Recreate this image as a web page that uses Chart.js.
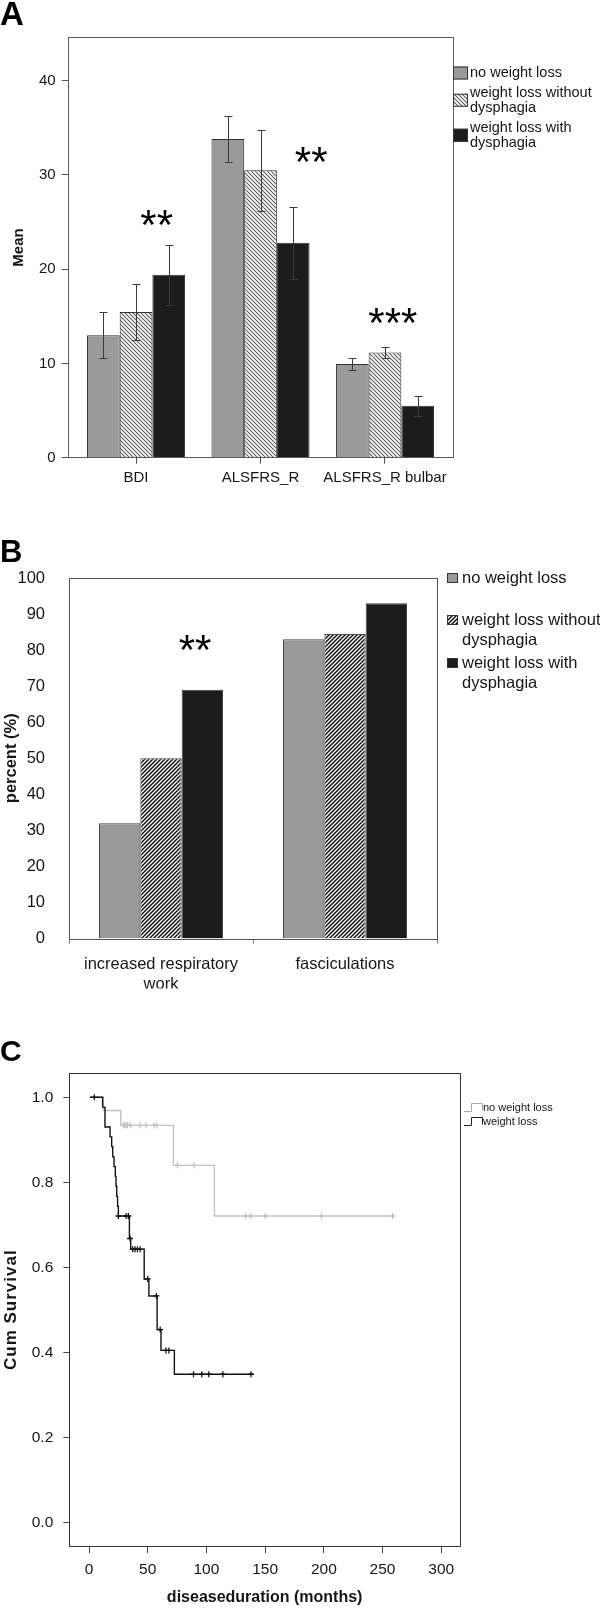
<!DOCTYPE html>
<html>
<head>
<meta charset="utf-8">
<script src="https://cdn.jsdelivr.net/npm/chart.js@4.4.1/dist/chart.umd.min.js"></script>
<style>
  html, body { margin: 0; padding: 0; background: #fff; }
  body { width: 600px; height: 1610px; position: relative; overflow: hidden; }
  canvas { position: absolute; left: 0; }
</style>
</head>
<body>
<canvas id="chartA" width="600" height="500" style="top:0"></canvas>
<canvas id="chartB" width="600" height="510" style="top:500px"></canvas>
<canvas id="chartC" width="600" height="600" style="top:1010px"></canvas>
<script>
// panel A: mean scores with error bars
const scoreLabels = ['BDI', 'ALSFRS_R', 'ALSFRS_R bulbar']
const meanNoLoss = [13.0, 33.8, 9.95]
const meanLossNoDys = [15.45, 30.5, 11.15]
const meanLossDys = [19.4, 22.8, 5.5]
const errNoLoss = [2.45, 2.45, 0.68]
const errLossNoDys = [2.95, 4.3, 0.57]
const errLossDys = [3.2, 3.8, 1.06]
const sigAText = ['**', '**', '***']
const sigAx = [0.166, 1.407, 2.063]
const sigAy = [25.2, 31.9, 14.8]
const yTicksA = [0, 10, 20, 30, 40]

// panel B: percent of patients
const signLabels = [['increased respiratory', 'work'], 'fasciculations']
const pctNoLoss = [32, 83]
const pctLossNoDys = [50, 84.5]
const pctLossDys = [69, 93]
const sigBText = ['**']
const sigBx = [0.185]
const sigBy = [81.4]

// panel C: Kaplan-Meier survival
const nwlTime = [0, 12.2, 27, 71.9, 106.8, 260]
const nwlSurv = [1.0, 0.969, 0.934, 0.840, 0.721, 0.721]
const nwlCensTime = [29.3, 30.5, 31.5, 32.9, 35.5, 43.5, 48.6, 55.4, 57.7, 75.3, 89.5, 133.5, 137.8, 150, 198, 258.6]
const nwlCensSurv = [0.934, 0.934, 0.934, 0.934, 0.934, 0.934, 0.934, 0.934, 0.934, 0.840, 0.840, 0.721, 0.721, 0.721, 0.721, 0.721]
const wlTime = [0.9, 11.6, 13.6, 17.9, 19.3, 20.2, 21.3, 22.4, 23.0, 23.6, 24.3, 25.0, 34.4, 35.5, 47, 51, 58, 61.3, 72.7, 139.6]
const wlSurv = [1.0, 0.977, 0.930, 0.907, 0.884, 0.860, 0.837, 0.814, 0.791, 0.767, 0.744, 0.721, 0.668, 0.643, 0.573, 0.533, 0.454, 0.405, 0.349, 0.349]
const wlCensTime = [4.5, 25, 31.5, 33.5, 35, 37.2, 39.2, 41.2, 43.5, 50, 57.4, 60.6, 65.5, 68, 89, 96, 102, 114, 138]
const wlCensSurv = [1.0, 0.721, 0.721, 0.721, 0.668, 0.643, 0.643, 0.643, 0.643, 0.573, 0.533, 0.454, 0.405, 0.405, 0.349, 0.349, 0.349, 0.349, 0.349]

const FONT = '"Liberation Sans", Arial, sans-serif'
const INK = '#161616'
const GREY = '#9a9a9a'
const BLACK = '#1c1c1c'

function hatch (dir, fg, width) {
  const size = 4
  const c = document.createElement('canvas')
  c.width = c.height = size
  const g = c.getContext('2d')
  g.fillStyle = '#fff'
  g.fillRect(0, 0, size, size)
  g.strokeStyle = fg
  g.lineWidth = width
  g.beginPath()
  if (dir === '\\') {
    g.moveTo(-1, -1); g.lineTo(size + 1, size + 1)
    g.moveTo(-1, size - 1); g.lineTo(1, size + 1)
    g.moveTo(size - 1, -1); g.lineTo(size + 1, 1)
  } else {
    g.moveTo(-1, size + 1); g.lineTo(size + 1, -1)
    g.moveTo(-1, 1); g.lineTo(1, -1)
    g.moveTo(size - 1, size + 1); g.lineTo(size + 1, size - 1)
  }
  g.stroke()
  return g.createPattern(c, 'repeat')
}

const hatchA = hatch('\\', '#5a5a5a', 1.1)
const hatchB = hatch('/', '#111', 1.5)

// frame, letter, axis titles, legend, stars (settings kept in a closure)
function extras (o) {
  return {
    id: 'extras',
    afterDatasetsDraw (chart) {
      const { ctx, chartArea: a, scales } = chart
      ctx.save()
      ctx.setLineDash([])
      ctx.strokeStyle = o.frame
      ctx.lineWidth = 1
      ctx.strokeRect(Math.round(a.left) + 0.5, Math.round(a.top) + 0.5, Math.round(a.right - a.left), Math.round(a.bottom - a.top))

      ctx.fillStyle = '#000'
      ctx.font = 'bold ' + o.letterSize + 'px ' + FONT
      ctx.textAlign = 'left'
      ctx.textBaseline = 'alphabetic'
      ctx.fillText(o.letter, 0, o.letterY)

      ctx.fillStyle = INK
      ctx.save()
      ctx.translate(o.yTitleX, (a.top + a.bottom) / 2)
      ctx.rotate(-Math.PI / 2)
      ctx.font = 'bold ' + o.yTitleSize + 'px ' + FONT
      if (o.yTitleSpacing) ctx.letterSpacing = o.yTitleSpacing
      ctx.textAlign = 'center'
      ctx.textBaseline = 'middle'
      ctx.fillText(o.yTitle, 0, 0)
      ctx.restore()

      if (o.xTitle) {
        ctx.font = 'bold ' + o.xTitleSize + 'px ' + FONT
        ctx.textAlign = 'center'
        ctx.textBaseline = 'middle'
        ctx.fillText(o.xTitle, (a.left + a.right) / 2, o.xTitleY)
      }

      if (o.stars) {
        ctx.font = '42px ' + FONT
        ctx.textAlign = 'center'
        ctx.textBaseline = 'alphabetic'
        ctx.fillStyle = '#000'
        o.stars.text.forEach((t, i) => {
          const x = scales.x.getPixelForValue(o.stars.x[i])
          const y = scales.y.getPixelForValue(o.stars.y[i])
          ctx.fillText(t, x, y + 19)
        })
      }

      const L = o.legend
      ctx.font = L.size + 'px ' + FONT
      ctx.textAlign = 'left'
      ctx.textBaseline = 'middle'
      L.items.forEach((it, i) => {
        const lines = [].concat(it.label)
        const y0 = L.y[i]
        if (it.fill) {
          const blockMid = y0 + (lines.length - 1) * L.lineHeight / 2
          const by = L.boxAlign === 'block' ? blockMid - L.boxH / 2 : y0 - L.boxH / 2
          ctx.fillStyle = it.fill
          ctx.fillRect(L.x, by, L.boxW, L.boxH)
          ctx.strokeStyle = '#333'
          ctx.strokeRect(L.x + 0.5, by + 0.5, L.boxW - 1, L.boxH - 1)
        } else {
          // step icon for survival curves
          ctx.strokeStyle = it.line
          ctx.lineWidth = 1
          ctx.beginPath()
          ctx.moveTo(L.x, Math.round(y0 + 3) + 0.5)
          ctx.lineTo(L.x + 7.5, Math.round(y0 + 3) + 0.5)
          ctx.lineTo(L.x + 7.5, Math.round(y0 - 5) + 0.5)
          ctx.lineTo(L.x + 18.5, Math.round(y0 - 5) + 0.5)
          ctx.lineTo(L.x + 18.5, Math.round(y0 + 2) + 0.5)
          ctx.stroke()
        }
        ctx.fillStyle = INK
        lines.forEach((s, k) => ctx.fillText(s, L.textX, y0 + k * L.lineHeight))
      })
      ctx.restore()
    }
  }
}

const errorBars = {
  id: 'errorBars',
  afterDatasetsDraw (chart) {
    const { ctx } = chart
    const y = chart.scales.y
    ctx.save()
    ctx.strokeStyle = '#3a3a3a'
    ctx.lineWidth = 1
    chart.data.datasets.forEach((ds, i) => {
      chart.getDatasetMeta(i).data.forEach((bar, j) => {
        const v = ds.data[j].y
        const e = ds.err[j]
        const top = Math.round(y.getPixelForValue(v + e)) + 0.5
        const bot = Math.round(y.getPixelForValue(v - e)) + 0.5
        const x = Math.round(bar.x) + 0.5
        ctx.beginPath()
        ctx.moveTo(x, top); ctx.lineTo(x, bot)
        ctx.moveTo(x - 4, top); ctx.lineTo(x + 4, top)
        ctx.moveTo(x - 4, bot); ctx.lineTo(x + 4, bot)
        ctx.stroke()
      })
    })
    ctx.restore()
  }
}

const base = {
  responsive: false,
  animation: false,
  devicePixelRatio: 1,
  plugins: { legend: { display: false }, tooltip: { enabled: false } }
}

const toXY = (xs, ys) => xs.map((x, i) => ({ x, y: ys[i] }))

// ---------- A
new Chart(document.getElementById('chartA').getContext('2d'), {
  type: 'bar',
  data: {
    datasets: [
      { label: 'no weight loss', data: toXY([0, 1, 2], meanNoLoss), err: errNoLoss, backgroundColor: GREY },
      { label: 'weight loss without dysphagia', data: toXY([0, 1, 2], meanLossNoDys), err: errLossNoDys, backgroundColor: hatchA },
      { label: 'weight loss with dysphagia', data: toXY([0, 1, 2], meanLossDys), err: errLossDys, backgroundColor: BLACK }
    ].map(d => Object.assign(d, { borderColor: '#333', borderWidth: 1, categoryPercentage: 0.788, barPercentage: 1 }))
  },
  options: {
    ...base,
    layout: { padding: { left: 0, right: 147.3, top: 37.3, bottom: 2.3 } },
    scales: {
      x: {
        type: 'linear',
        min: -0.549,
        max: 2.544,
        offset: false,
        afterFit: s => { s.height = 40 },
        border: { display: false },
        grid: { drawOnChartArea: false, tickLength: 6, color: '#555', offset: false },
        ticks: {
          stepSize: 1,
          includeBounds: false,
          padding: 5,
          color: INK,
          font: { family: FONT, size: 15 },
          maxRotation: 0,
          autoSkip: false,
          callback: v => scoreLabels[v] ?? ''
        }
      },
      y: {
        min: 0,
        max: 44.6,
        afterFit: s => { s.width = 67.7 },
        afterBuildTicks: s => { s.ticks = yTicksA.map(value => ({ value })) },
        border: { display: false },
        grid: { drawOnChartArea: false, tickLength: 6, color: '#555' },
        ticks: { padding: 6, color: INK, font: { family: FONT, size: 15 } }
      }
    }
  },
  plugins: [errorBars, extras({
    frame: '#5c5c5c',
    letter: 'A', letterSize: 33, letterY: 25,
    yTitle: 'Mean', yTitleSize: 15, yTitleX: 19,
    stars: { text: sigAText, x: sigAx, y: sigAy },
    legend: {
      x: 453, textX: 470, size: 14.5, lineHeight: 14.5,
      boxW: 15, boxH: 13, boxAlign: 'block',
      y: [73, 93, 128],
      items: [
        { label: 'no weight loss', fill: GREY },
        { label: ['weight loss without', 'dysphagia'], fill: hatchA },
        { label: ['weight loss with', 'dysphagia'], fill: BLACK }
      ]
    }
  })]
})

// ---------- B
new Chart(document.getElementById('chartB').getContext('2d'), {
  type: 'bar',
  data: {
    labels: signLabels,
    datasets: [
      { label: 'no weight loss', data: pctNoLoss, backgroundColor: GREY },
      { label: 'weight loss without dysphagia', data: pctLossNoDys, backgroundColor: hatchB },
      { label: 'weight loss with dysphagia', data: pctLossDys, backgroundColor: BLACK }
    ].map(d => Object.assign(d, { borderColor: '#444', borderWidth: 1, categoryPercentage: 0.674, barPercentage: 1 }))
  },
  options: {
    ...base,
    layout: { padding: { left: 0, right: 163, top: 78, bottom: 21.5 } },
    scales: {
      x: {
        afterFit: s => { s.height = 50 },
        border: { display: false },
        grid: { drawOnChartArea: false, tickLength: 5, color: '#777', offset: true },
        ticks: { padding: 11, color: INK, font: { family: FONT, size: 16.5 }, maxRotation: 0, autoSkip: false }
      },
      y: {
        min: 0,
        max: 100,
        afterFit: s => { s.width = 69 },
        border: { display: false },
        grid: { display: false },
        ticks: { stepSize: 10, padding: 16, color: INK, font: { family: FONT, size: 16.5 } }
      }
    }
  },
  plugins: [extras({
    frame: '#555',
    letter: 'B', letterSize: 31, letterY: 61.5,
    yTitle: 'percent (%)', yTitleSize: 16.5, yTitleX: 11,
    stars: { text: sigBText, x: sigBx, y: sigBy },
    legend: {
      x: 447, textX: 462, size: 16.5, lineHeight: 20,
      boxW: 11, boxH: 10, boxAlign: 'first',
      y: [78, 120, 163],
      items: [
        { label: 'no weight loss', fill: GREY },
        { label: ['weight loss without', 'dysphagia'], fill: hatchB },
        { label: ['weight loss with', 'dysphagia'], fill: BLACK }
      ]
    }
  })]
})

// ---------- C
const censor = (color, width) => ({
  showLine: false, pointStyle: 'cross', pointRadius: 3, pointBorderColor: color, pointBorderWidth: width
})

new Chart(document.getElementById('chartC').getContext('2d'), {
  type: 'line',
  data: {
    datasets: [
      { label: 'weight loss', data: toXY(wlTime, wlSurv), stepped: true, borderColor: '#111', borderWidth: 1.4, pointRadius: 0 },
      { label: 'weight loss censored', data: toXY(wlCensTime, wlCensSurv), ...censor('#111', 1.3) },
      { label: 'no weight loss', data: toXY(nwlTime, nwlSurv), stepped: true, borderColor: '#c2c2c2', borderWidth: 1.4, pointRadius: 0 },
      { label: 'no weight loss censored', data: toXY(nwlCensTime, nwlCensSurv), ...censor('#bdbdbd', 1.2) }
    ]
  },
  options: {
    ...base,
    layout: { padding: { left: 0, right: 140, top: 63.3, bottom: 4 } },
    scales: {
      x: {
        type: 'linear',
        min: -16.8,
        max: 316,
        afterFit: s => { s.height = 60 },
        border: { display: false },
        grid: { drawOnChartArea: false, tickLength: 7, color: '#444' },
        ticks: { stepSize: 50, includeBounds: false, padding: 7, color: INK, font: { family: FONT, size: 15.5 }, maxRotation: 0 }
      },
      y: {
        min: -0.0548,
        max: 1.0564,
        afterFit: s => { s.width = 69.3 },
        border: { display: false },
        grid: { drawOnChartArea: false, tickLength: 6, color: '#444' },
        ticks: { stepSize: 0.2, includeBounds: false, padding: 10, color: INK, font: { family: FONT, size: 15.5 }, callback: v => v.toFixed(1) }
      }
    }
  },
  plugins: [extras({
    frame: '#333',
    letter: 'C', letterSize: 30, letterY: 51,
    yTitle: 'Cum Survival', yTitleSize: 17, yTitleX: 11.5, yTitleSpacing: '1px',
    xTitle: 'diseaseduration (months)', xTitleSize: 16, xTitleY: 588,
    legend: {
      x: 464, textX: 483, size: 11, lineHeight: 14,
      y: [97.5, 111.6],
      items: [
        { label: 'no weight loss', line: '#aaa' },
        { label: 'weight loss', line: '#222' }
      ]
    }
  })]
})
</script>
</body>
</html>
